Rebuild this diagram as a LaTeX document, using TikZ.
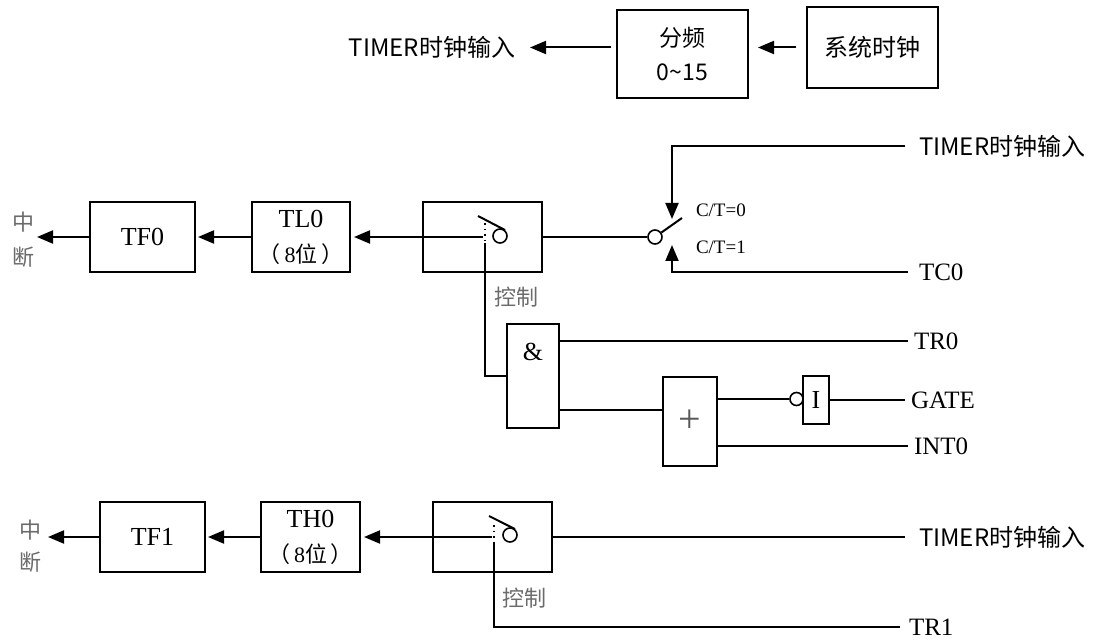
\documentclass[tikz,border=0pt]{standalone}
\usepackage{fontspec}
\setmainfont{Liberation Serif}
\newfontfamily\cjkfont{Noto Sans CJK SC}
\usetikzlibrary{arrows.meta}
\definecolor{hint}{gray}{0.42}

\begin{document}
\begin{tikzpicture}[x=.5pt,y=-.5pt,line width=1pt,
    box/.style={draw,rectangle,inner sep=0pt,align=center,font=\fontsize{13}{17.5}\selectfont},
    arr/.style={-{Triangle[length=8pt,width=6.5pt]}},
    sig/.style={anchor=west,inner sep=2.5pt,font=\fontsize{12.5}{15}\selectfont},
    knob/.style={draw,circle,inner sep=0pt,minimum size=7pt,line width=.8pt},
    note/.style={text=hint,inner sep=0pt,align=center,font=\cjkfont\fontsize{11}{13}\selectfont}]
    \useasboundingbox (0,0) rectangle (1105,642);

    % clock source
    \node[box,minimum width=65.5pt,minimum height=40.5pt,font=\cjkfont\fontsize{12}{14}\selectfont] (sys) at (872.5,47.5) {系统时钟};
    \node[box,minimum width=65.5pt,minimum height=44pt,font=\cjkfont\fontsize{11.5}{17}\selectfont] (div) at (682.5,54) {分频\\0\textasciitilde 15};
    \node[anchor=east,inner sep=0pt,font=\cjkfont\fontsize{12}{14}\selectfont] (clkout) at (516,47.5) {TIMER时钟输入};
    \draw[arr,shorten <=5pt,shorten >=4.5pt] (sys.west) -- (div.east |- sys.west);
    \draw[arr,shorten <=2.5pt,shorten >=7pt] (div.west |- sys.west) -- (clkout.east);

    % timer 0
    \node[box,minimum width=52.5pt,minimum height=35pt] (tf0) at (142.5,237) {TF0};
    \node[box,minimum width=49pt,minimum height=35pt] (tl0) at (301,237) {TL0\\{\fontsize{11}{13}\selectfont\cjkfont （\hspace{2pt}\rmfamily 8\cjkfont 位\hspace{2pt}）}};
    \node[box,minimum width=59.5pt,minimum height=35pt] (swa) at (482.5,237) {};
    \node[note,font=\cjkfont\fontsize{11}{17.5}\selectfont] (zd0) at (23,240) {中\\断};
    \coordinate (ca) at (483,237);
    \node[knob] (ka) at (500,236) {};
    \draw (ka.50) -- (478,216);
    \draw[dotted,line width=.8pt] (485,223) -- (485,243);
    \draw[arr,shorten >=1.5pt] (ca) -- (tl0.east);
    \draw[arr,shorten >=1pt] (tl0) -- (tf0);
    \draw[arr,shorten >=1pt] (tf0.west) -- (zd0.east |- tf0.west);

    % C/T select
    \node[knob] (kb) at (655,237) {};
    \draw (swa.east) -- (kb);
    \draw (kb.35) -- (682,218);
    \coordinate (pa) at (672,219);
    \coordinate (pb) at (672,245);
    \node[sig,inner xsep=6.5pt,font=\cjkfont\fontsize{12}{14}\selectfont] (clka) at (905,146) {TIMER时钟输入};
    \node[sig,inner xsep=5pt] (tc0) at (908,272) {TC0};
    \draw[arr] (clka.west) -| (pa);
    \draw[arr] (tc0.west) -| (pb);
    \node[anchor=west,inner sep=0pt,font=\fontsize{9.5}{11}\selectfont] (ct0) at (695,210) {C/T=0};
    \node[anchor=west,inner sep=0pt,font=\fontsize{9.5}{11}\selectfont] (ct1) at (695,247) {C/T=1};

    % gate logic
    \node[box,minimum width=26pt,minimum height=52pt,label={[anchor=center,yshift=-14.5pt,font=\fontsize{13}{15}\selectfont]north:\&}] (and) at (533,376) {};
    \node[box,minimum width=27pt,minimum height=44.5pt,font=\fontsize{20}{22}\selectfont,text=black!65] (or) at (690,421.5) {+};
    \node[box,minimum width=13pt,minimum height=24pt,font=\fontsize{13}{15}\selectfont] (inv) at (816,400) {I};
    \node[knob,minimum size=6.5pt] (bub) at (796.5,399) {};
    \coordinate (cta) at (485,243);
    \draw (cta) |- (and.west);
    \node[note,anchor=west] (ctl0) at (493,297) {控制};
    \node[sig] (tr0) at (908,341) {TR0};
    \node[sig] (gate) at (905,400) {GATE};
    \node[sig] (int0) at (908,446) {INT0};
    \draw (and.east |- tr0.west) -- (tr0.west);
    \draw (and.east |- 0,410) -- (or.west |- 0,410);
    \draw (or.east |- bub) -- (bub);
    \draw (inv) -- (gate);
    \draw (or.east |- int0.west) -- (int0.west);

    % timer 1
    \node[box,minimum width=52.5pt,minimum height=35pt] (tf1) at (152.5,537) {TF1};
    \node[box,minimum width=49.5pt,minimum height=35pt] (th0) at (310.5,537) {TH0\\{\fontsize{11}{13}\selectfont\cjkfont （\hspace{2pt}\rmfamily 8\cjkfont 位\hspace{2pt}）}};
    \node[box,minimum width=59.5pt,minimum height=35pt] (swb) at (492.5,537) {};
    \node[note,font=\cjkfont\fontsize{11}{16}\selectfont] (zd1) at (30,546) {中\\断};
    \coordinate (cb) at (492,537);
    \node[knob] (kc) at (510,535) {};
    \draw (kc.50) -- (489,516);
    \draw[dotted,line width=.8pt] (494,525) -- (494,543);
    \draw[arr,shorten >=1.5pt] (cb) -- (th0.east);
    \draw[arr,shorten >=1pt] (th0) -- (tf1);
    \draw[arr,shorten >=3pt] (tf1.west) -- (zd1.east |- tf1.west);
    \node[sig,inner xsep=6.5pt,font=\cjkfont\fontsize{12}{14}\selectfont] (clkb) at (905,537) {TIMER时钟输入};
    \draw (swb.east) -- (clkb.west);
    \coordinate (ctb) at (494,543);
    \node[sig,inner xsep=4pt] (tr1) at (900,627) {TR1};
    \draw (ctb) |- (tr1.west);
    \node[note,anchor=west] (ctl1) at (501,598) {控制};
\end{tikzpicture}
\end{document}
